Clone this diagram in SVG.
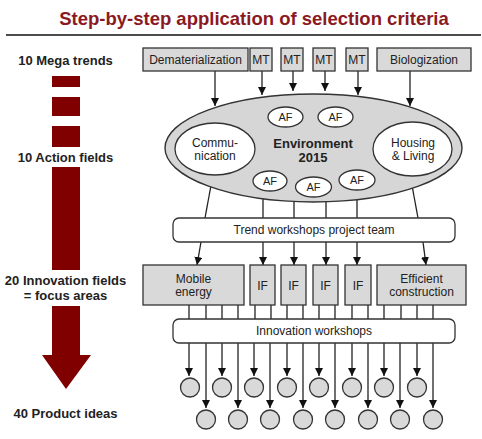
<svg xmlns="http://www.w3.org/2000/svg" width="482" height="439" viewBox="0 0 482 439">
<defs>
<marker id="ah" markerUnits="userSpaceOnUse" markerWidth="8" markerHeight="8" refX="8" refY="4" orient="auto">
<path d="M0,0 L8,4 L0,8 z" fill="#111"/>
</marker>
<style>
.title{font-family:"Liberation Sans",Arial,sans-serif;font-size:18.5px;font-weight:bold;fill:#8a1a1f;text-anchor:middle}
.box{fill:#d9d9d9;stroke:#333;stroke-width:1.3}
.wbox{fill:#fff;stroke:#333;stroke-width:1.3}
.t{font-family:"Liberation Sans",Arial,sans-serif;font-size:12px;fill:#222;text-anchor:middle}
.tb{font-family:"Liberation Sans",Arial,sans-serif;font-size:13px;font-weight:bold;fill:#222;text-anchor:middle}
.ts{font-family:"Liberation Sans",Arial,sans-serif;font-size:11px;fill:#222;text-anchor:middle}
.ln{stroke:#222;stroke-width:1.3;fill:none}
.ar{stroke:#222;stroke-width:1.3;fill:none;marker-end:url(#ah)}
.red{fill:#800000}
</style>
</defs>
<rect width="482" height="439" fill="#fff"/>
<text class="title" x="254" y="25">Step-by-step application of selection criteria</text>
<line x1="6" y1="35" x2="481" y2="35" stroke="#111" stroke-width="1.5"/>

<g id="left-axis">
<text class="tb" x="65.5" y="64.5">10 Mega trends</text>
<rect class="red" x="52" y="76" width="28" height="11"/>
<rect class="red" x="52" y="97" width="28" height="19"/>
<rect class="red" x="52" y="126" width="28" height="21"/>
<text class="tb" x="65.5" y="161.5">10 Action fields</text>
<rect class="red" x="52" y="167" width="28" height="103"/>
<text class="tb" x="65.5" y="284.5">20 Innovation fields</text>
<text class="tb" x="65.5" y="299.5">= focus areas</text>
<polygon class="red" points="52,306 80,306 80,355 91,355 66,389 42,355 52,355"/>
<text class="tb" x="65.5" y="417.5">40 Product ideas</text>
</g>

<g id="connectors">
<line class="ar" x1="215" y1="71" x2="215" y2="106"/>
<line class="ar" x1="262" y1="71" x2="262" y2="95"/>
<line class="ar" x1="293" y1="71" x2="293" y2="91"/>
<line class="ar" x1="325" y1="71" x2="325" y2="91"/>
<line class="ar" x1="358" y1="71" x2="358" y2="95"/>
<line class="ar" x1="410" y1="71" x2="410" y2="106"/>
<line class="ln" x1="212" y1="180" x2="205" y2="218"/>
<line class="ln" x1="263" y1="190" x2="263" y2="218"/>
<line class="ln" x1="294" y1="190" x2="294" y2="218"/>
<line class="ln" x1="326" y1="190" x2="326" y2="218"/>
<line class="ln" x1="357" y1="190" x2="357" y2="218"/>
<line class="ln" x1="411" y1="180" x2="418" y2="218"/>
<line class="ar" x1="201" y1="242" x2="197" y2="265"/>
<line class="ar" x1="263" y1="242" x2="263" y2="265"/>
<line class="ar" x1="294" y1="242" x2="294" y2="265"/>
<line class="ar" x1="326" y1="242" x2="326" y2="265"/>
<line class="ar" x1="357" y1="242" x2="357" y2="265"/>
<line class="ar" x1="423" y1="242" x2="426" y2="265"/>
<g class="ln">
<line x1="189" y1="305" x2="189" y2="319"/><line x1="206" y1="305" x2="206" y2="319"/>
<line x1="222" y1="305" x2="222" y2="319"/><line x1="238" y1="305" x2="238" y2="319"/>
<line x1="255" y1="305" x2="255" y2="319"/><line x1="271" y1="305" x2="271" y2="319"/>
<line x1="287" y1="305" x2="287" y2="319"/><line x1="303" y1="305" x2="303" y2="319"/>
<line x1="319" y1="305" x2="319" y2="319"/><line x1="335" y1="305" x2="335" y2="319"/>
<line x1="352" y1="305" x2="352" y2="319"/><line x1="368" y1="305" x2="368" y2="319"/>
<line x1="384" y1="305" x2="384" y2="319"/><line x1="401" y1="305" x2="401" y2="319"/>
<line x1="417" y1="305" x2="417" y2="319"/><line x1="433" y1="305" x2="433" y2="319"/>
</g>
<line class="ar" x1="189" y1="343" x2="189" y2="376"/>
<line class="ar" x1="222" y1="343" x2="222" y2="376"/>
<line class="ar" x1="254" y1="343" x2="254" y2="376"/>
<line class="ar" x1="287" y1="343" x2="287" y2="376"/>
<line class="ar" x1="319" y1="343" x2="319" y2="376"/>
<line class="ar" x1="352" y1="343" x2="352" y2="376"/>
<line class="ar" x1="384" y1="343" x2="384" y2="376"/>
<line class="ar" x1="417" y1="343" x2="417" y2="376"/>
<line class="ar" x1="206" y1="343" x2="206" y2="408"/>
<line class="ar" x1="238" y1="343" x2="238" y2="408"/>
<line class="ar" x1="270" y1="343" x2="270" y2="408"/>
<line class="ar" x1="303" y1="343" x2="303" y2="408"/>
<line class="ar" x1="335" y1="343" x2="335" y2="408"/>
<line class="ar" x1="368" y1="343" x2="368" y2="408"/>
<line class="ar" x1="400" y1="343" x2="400" y2="408"/>
<line class="ar" x1="433" y1="343" x2="433" y2="408"/>
</g>

<g id="mt-dematerialization"><rect class="box" x="143" y="48" width="105" height="23"/><text class="t" x="195.5" y="63.5">Dematerialization</text></g>
<g id="mt-2"><rect class="box" x="250" y="48" width="22" height="23"/><text class="t" x="261" y="63.5">MT</text></g>
<g id="mt-3"><rect class="box" x="281" y="48" width="22" height="23"/><text class="t" x="292" y="63.5">MT</text></g>
<g id="mt-4"><rect class="box" x="313" y="48" width="22" height="23"/><text class="t" x="324" y="63.5">MT</text></g>
<g id="mt-5"><rect class="box" x="346" y="48" width="22" height="23"/><text class="t" x="357" y="63.5">MT</text></g>
<g id="mt-biologization"><rect class="box" x="377" y="48" width="94" height="23"/><text class="t" x="424" y="63.5">Biologization</text></g>

<g id="environment">
<ellipse cx="313.5" cy="148" rx="148.5" ry="54" fill="#d6d6d6" stroke="#333" stroke-width="1.4"/>
<text class="tb" x="313" y="147.5">Environment</text>
<text class="tb" x="313" y="161.5">2015</text>
</g>
<g id="af-communication"><ellipse class="wbox" cx="215" cy="149" rx="40" ry="26"/><text class="t" x="215" y="147">Commu-</text><text class="t" x="215" y="159.5">nication</text></g>
<g id="af-housing"><ellipse class="wbox" cx="412.5" cy="149" rx="39.5" ry="27"/><text class="t" x="413" y="147">Housing</text><text class="t" x="413" y="159.5">&amp; Living</text></g>
<g id="af-1"><ellipse class="wbox" cx="285.5" cy="117" rx="17.5" ry="10"/><text class="ts" x="285.5" y="121">AF</text></g>
<g id="af-2"><ellipse class="wbox" cx="335.5" cy="117" rx="17.5" ry="10"/><text class="ts" x="335.5" y="121">AF</text></g>
<g id="af-3"><ellipse class="wbox" cx="270" cy="181" rx="17" ry="10"/><text class="ts" x="270" y="185">AF</text></g>
<g id="af-4"><ellipse class="wbox" cx="313.5" cy="187" rx="18" ry="10"/><text class="ts" x="313.5" y="191">AF</text></g>
<g id="af-5"><ellipse class="wbox" cx="357" cy="180" rx="18" ry="10"/><text class="ts" x="357" y="184">AF</text></g>

<g id="trend-workshops"><rect class="wbox" x="173" y="218" width="282" height="24" rx="6"/><text class="t" x="314" y="234">Trend workshops project team</text></g>

<g id="if-mobile"><rect class="box" x="143" y="265" width="101" height="40"/><text class="t" x="193.5" y="283">Mobile</text><text class="t" x="193.5" y="296">energy</text></g>
<g id="if-2"><rect class="box" x="250" y="265" width="25" height="40"/><text class="t" x="262.5" y="290">IF</text></g>
<g id="if-3"><rect class="box" x="281" y="265" width="25" height="40"/><text class="t" x="293.5" y="290">IF</text></g>
<g id="if-4"><rect class="box" x="313" y="265" width="25" height="40"/><text class="t" x="325.5" y="290">IF</text></g>
<g id="if-5"><rect class="box" x="345" y="265" width="26" height="40"/><text class="t" x="358" y="290">IF</text></g>
<g id="if-efficient"><rect class="box" x="377" y="265" width="89" height="40"/><text class="t" x="421.5" y="283">Efficient</text><text class="t" x="421.5" y="296">construction</text></g>

<g id="innovation-workshops"><rect class="wbox" x="173" y="319" width="282" height="24" rx="6"/><text class="t" x="314" y="335">Innovation workshops</text></g>

<g id="ideas-top">
<circle class="box" cx="190" cy="387.5" r="9.5"/><circle class="box" cx="222" cy="387.5" r="9.5"/>
<circle class="box" cx="254" cy="387.5" r="9.5"/><circle class="box" cx="287" cy="387.5" r="9.5"/>
<circle class="box" cx="319" cy="387.5" r="9.5"/><circle class="box" cx="352" cy="387.5" r="9.5"/>
<circle class="box" cx="384" cy="387.5" r="9.5"/><circle class="box" cx="417" cy="387.5" r="9.5"/>
</g>
<g id="ideas-bottom">
<circle class="box" cx="206" cy="419.5" r="9.5"/><circle class="box" cx="238" cy="419.5" r="9.5"/>
<circle class="box" cx="270" cy="419.5" r="9.5"/><circle class="box" cx="303" cy="419.5" r="9.5"/>
<circle class="box" cx="335" cy="419.5" r="9.5"/><circle class="box" cx="368" cy="419.5" r="9.5"/>
<circle class="box" cx="400" cy="419.5" r="9.5"/><circle class="box" cx="433" cy="419.5" r="9.5"/>
</g>
</svg>
